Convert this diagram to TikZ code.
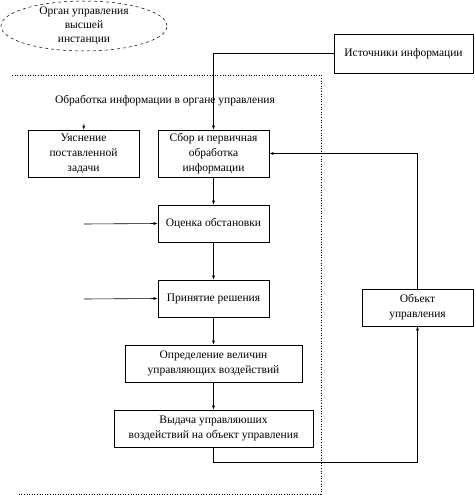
\documentclass[tikz,border=0pt]{standalone}
\usepackage{fontspec}
\setmainfont{Liberation Serif}
\usetikzlibrary{arrows.meta,calc}
\tikzset{flow/.style={-{Latex[length=4pt,width=3pt]}},
  blk/.style={draw, line width=0.6pt, align=center, inner sep=1pt, font=\fontsize{11.5}{15}\selectfont}}

\begin{document}
\begin{tikzpicture}[x=1pt,y=-1pt,line width=0.6pt]
  \useasboundingbox (0,0) rectangle (474,495);
  % upper level
  \node[align=center, font=\fontsize{11.5}{14}\selectfont] (org) at (84,26) {Орган управления\\высшей\\инстанции};
  \draw[dashed, line width=0.5pt] (org.center) ellipse (83pt and 25pt);
  \node[blk, minimum width=139pt, minimum height=39pt] (src) at (403.5,53.5) {Источники информации};
  % processing area
  \draw[dotted] (12,75) -| (321,494) -- (18,494);
  \node[font=\fontsize{11.5}{14}\selectfont] (lbl) at (165,101) {Обработка информации в органе управления};
  \node[blk, minimum width=111pt, minimum height=47pt] (task) at (83.5,153.5) {Уяснение\\поставленной\\задачи};
  \node[blk, minimum width=111pt, minimum height=47pt] (sbor) at (213.5,153.5) {Сбор и первичная\\обработка\\информации};
  \node[blk, minimum width=111pt, minimum height=37pt] (ocen) at (213.5,223.5) {Оценка обстановки};
  \node[blk, minimum width=111pt, minimum height=37pt] (resh) at (213.5,298.5) {Принятие решения};
  \node[blk, minimum width=177pt, minimum height=37pt] (opr) at (213.5,363.5) {Определение величин\\управляющих воздействий};
  \node[blk, minimum width=199pt, minimum height=37pt] (vyd) at (213.5,428.5) {Выдача управляюших\\воздействий на объект управления};
  \node[blk, minimum width=111pt, minimum height=37pt] (obj) at (417.5,307.5) {Объект\\управления};
  \coordinate (in0) at (84,124);
  \coordinate (in1) at (84,224);
  \coordinate (in2) at (84,299);
  % links
  \draw[flow] (src.west) -| (sbor.north);
  \draw[flow] (in0) -- (task.north);
  \draw[flow] (sbor) -- (ocen);
  \draw[flow] (ocen) -- (resh);
  \draw[flow] (resh) -- (opr);
  \draw[flow] (opr) -- (vyd);
  \draw[flow] (in1) -- (ocen.west);
  \draw[flow] (in2) -- (resh.west);
  \draw[flow] (vyd.south) -- ++(0,15) -| (obj.south);
  \draw[flow] (obj.north) |- (sbor.east);
\end{tikzpicture}
\end{document}
